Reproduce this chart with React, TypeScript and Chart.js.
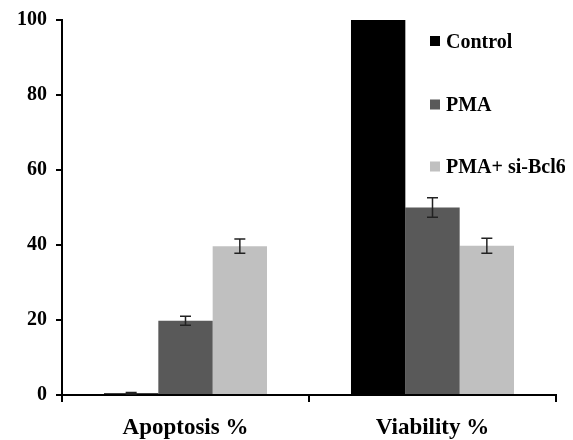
import React, { useEffect, useRef } from "react";
import { Chart, registerables } from "chart.js";

Chart.register(...registerables);

const categories = ["Apoptosis %", "Viability %"];
const seriesNames = ["Control", "PMA", "PMA+ si-Bcl6"];
const controlValues = [0.5, 100];
const pmaValues = [19.8, 50];
const siValues = [39.7, 39.8];
const controlErrors = [0.2, 0];
const pmaErrors = [1.2, 2.6];
const siErrors = [1.9, 2.0];
const yTicks = [0, 20, 40, 60, 80, 100];

const colors = ["#000000", "#595959", "#c0c0c0"];
const FONT = "'Liberation Serif', 'Times New Roman', serif";

const errorBarPlugin = {
  id: "errorBars",
  afterDatasetsDraw(chart: any) {
    const ctx = chart.ctx;
    const yScale = chart.scales.y;
    const errs = [controlErrors, pmaErrors, siErrors];
    ctx.save();
    ctx.strokeStyle = "#222222";
    ctx.lineWidth = 1.5;
    chart.data.datasets.forEach((ds: any, di: number) => {
      const meta = chart.getDatasetMeta(di);
      meta.data.forEach((bar: any, i: number) => {
        const e = errs[di][i];
        if (!e) return;
        const v = ds.data[i];
        const x = bar.x;
        const yTop = yScale.getPixelForValue(v + e);
        const yBot = yScale.getPixelForValue(v - e);
        ctx.beginPath();
        ctx.moveTo(x, yTop);
        ctx.lineTo(x, yBot);
        ctx.moveTo(x - 5.5, yTop);
        ctx.lineTo(x + 5.5, yTop);
        ctx.moveTo(x - 5.5, yBot);
        ctx.lineTo(x + 5.5, yBot);
        ctx.stroke();
      });
    });
    ctx.restore();
  },
};

const legendPlugin = {
  id: "customLegend",
  afterDraw(chart: any) {
    const ctx = chart.ctx;
    const baselines = [39.5, 103, 165];
    ctx.save();
    ctx.font = `bold 20px ${FONT}`;
    ctx.textBaseline = "alphabetic";
    ctx.textAlign = "left";
    seriesNames.forEach((name, i) => {
      const b = baselines[i];
      ctx.fillStyle = colors[i];
      ctx.fillRect(422, b - 11.5, 10, 10);
      ctx.fillStyle = "#000000";
      ctx.fillText(name, 438, b);
    });
    ctx.restore();
  },
};

export default function App() {
  const ref = useRef<HTMLCanvasElement>(null);
  useEffect(() => {
    if (!ref.current) return;
    const chart = new Chart(ref.current, {
      type: "bar",
      data: {
        labels: categories,
        datasets: [
          { label: seriesNames[0], data: controlValues, backgroundColor: colors[0] },
          { label: seriesNames[1], data: pmaValues, backgroundColor: colors[1] },
          { label: seriesNames[2], data: siValues, backgroundColor: colors[2] },
        ],
      },
      options: {
        animation: false,
        responsive: true,
        maintainAspectRatio: false,
        layout: { padding: { top: 12, right: 9, left: 0, bottom: 0 } },
        datasets: {
          bar: { categoryPercentage: 0.66, barPercentage: 1.0 },
        },
        plugins: {
          legend: { display: false },
          tooltip: { enabled: false },
        },
        scales: {
          x: {
            offset: true,
            grid: {
              display: true,
              drawOnChartArea: false,
              offset: true,
              tickLength: 7,
              color: "#000000",
              lineWidth: 2,
            },
            border: { display: true, color: "#000000", width: 2 },
            ticks: {
              color: "#000000",
              font: { family: FONT, size: 23, weight: "bold" },
              padding: 12,
            },
            afterFit(scale: any) {
              scale.height = 45;
              scale.paddingLeft = 0;
              scale.paddingRight = 0;
            },
          },
          y: {
            min: 0,
            max: 100,
            afterBuildTicks(scale: any) {
              scale.ticks = yTicks.map((v) => ({ value: v }));
            },
            grid: {
              display: true,
              drawOnChartArea: false,
              tickLength: 6,
              color: "#000000",
              lineWidth: 2,
            },
            border: { display: true, color: "#000000", width: 2 },
            ticks: {
              color: "#000000",
              font: { family: FONT, size: 20, weight: "bold" },
              padding: 9,
            },
            afterFit(scale: any) {
              scale.width = 54;
              scale.paddingTop = 0;
              scale.paddingBottom = 0;
            },
          },
        },
      },
      plugins: [errorBarPlugin, legendPlugin],
    });
    return () => chart.destroy();
  }, []);
  return (
    <div style={{ width: 557, height: 432, position: "relative" }}>
      <canvas ref={ref} />
    </div>
  );
}
